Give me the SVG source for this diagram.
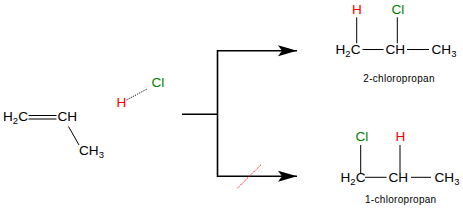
<svg xmlns="http://www.w3.org/2000/svg" width="463" height="212" viewBox="0 0 463 212">
<style>
text{font-family:"Liberation Sans",Arial,sans-serif;font-size:13.6px;fill:#000}
.s{font-size:9.5px}
.lab{font-size:10px;letter-spacing:0.3px}
.r{fill:#ff0000}
.g{fill:#008000}
.b{stroke:#000;stroke-width:1;fill:none}
.a{stroke:#000;stroke-width:1.6;fill:none}
</style>
<defs>
<path id="ah" d="M0,0 L-19,-5.5 L-15,0 L-19,5.5 Z" fill="#000"/>
</defs>
<g id="propene">
<text x="3" y="121">H<tspan class="s" dy="3">2</tspan><tspan dy="-3">C</tspan></text>
<line class="b" x1="28.5" y1="115.5" x2="56.5" y2="115.5"/>
<line class="b" x1="28.5" y1="119" x2="56.5" y2="119"/>
<text x="57.5" y="121">CH</text>
<line class="b" x1="68.5" y1="126.5" x2="79" y2="145"/>
<text x="79" y="155">CH<tspan class="s" dy="3">3</tspan></text>
</g>
<g id="hcl">
<text class="r" x="116.5" y="107.3">H</text>
<text class="g" x="151.5" y="87.3">Cl</text>
<line x1="126.5" y1="100" x2="147" y2="89" stroke="#000" stroke-width="1" stroke-dasharray="1.2,1.2"/>
</g>
<g id="connectors">
<polyline class="a" points="182,114.3 217.5,114.3"/>
<polyline class="a" points="297,50.7 217.5,50.7 217.5,176.3 297,176.3"/>
<use href="#ah" x="297" y="50.7"/>
<use href="#ah" x="297" y="176.3"/>
<line x1="237.3" y1="188.3" x2="261.7" y2="164" stroke="#ff0000" stroke-width="1" stroke-dasharray="1.3,1"/>
</g>
<g id="product2">
<text class="r" x="352" y="13.5">H</text>
<text class="g" x="391.5" y="13.5">Cl</text>
<line class="b" x1="356.7" y1="17.3" x2="356.7" y2="43.3"/>
<line class="b" x1="397.3" y1="17.3" x2="397.3" y2="43.3"/>
<text x="335.5" y="54.3">H<tspan class="s" dy="3">2</tspan><tspan dy="-3">C</tspan></text>
<line class="b" x1="362.5" y1="49.5" x2="383.5" y2="49.5"/>
<text x="385.5" y="54.3">CH</text>
<line class="b" x1="407" y1="49.5" x2="429" y2="49.5"/>
<text x="431.5" y="54.3">CH<tspan class="s" dy="3">3</tspan></text>
<text class="lab" x="363.3" y="81.7">2-chloropropan</text>
</g>
<g id="product1">
<text class="g" x="355.5" y="140.7">Cl</text>
<text class="r" x="395.5" y="140.7">H</text>
<line class="b" x1="360.7" y1="145" x2="360.7" y2="173.3"/>
<line class="b" x1="400" y1="145" x2="400" y2="173.3"/>
<text x="340.5" y="182">H<tspan class="s" dy="3">2</tspan><tspan dy="-3">C</tspan></text>
<line class="b" x1="365" y1="177.3" x2="386.5" y2="177.3"/>
<text x="388.5" y="182">CH</text>
<line class="b" x1="411" y1="177.3" x2="431" y2="177.3"/>
<text x="434.5" y="182">CH<tspan class="s" dy="3">3</tspan></text>
<text class="lab" x="365" y="203.3">1-chloropropan</text>
</g>
</svg>
